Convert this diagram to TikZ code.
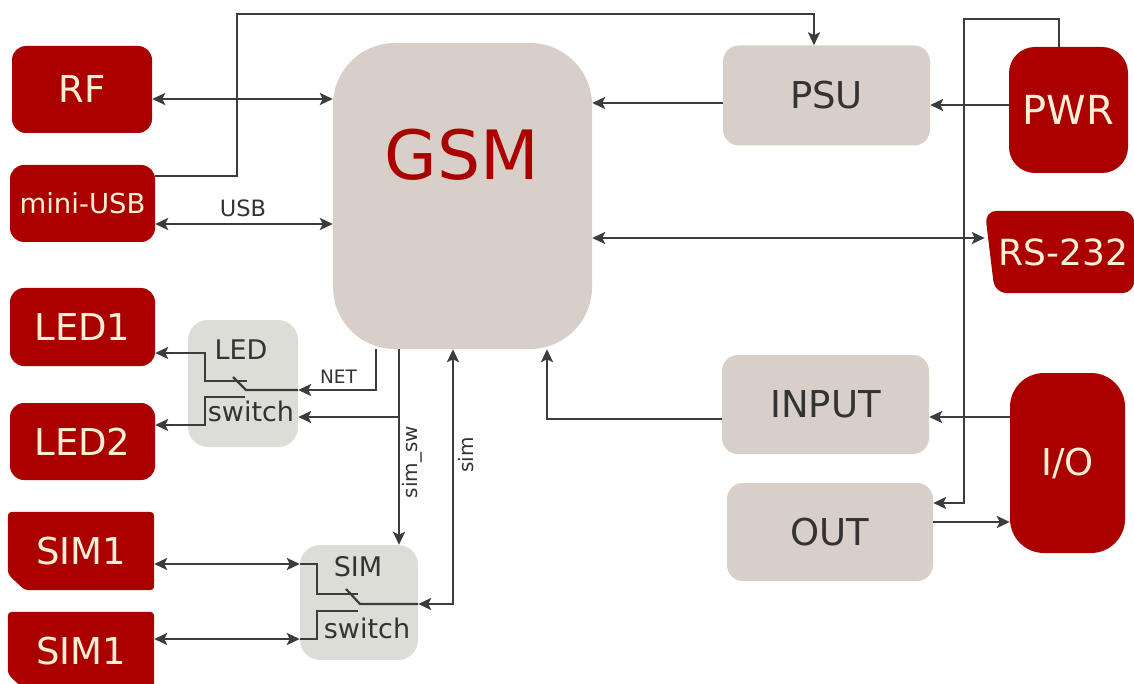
\documentclass[tikz,border=0pt]{standalone}
\usepackage{fontspec}
\setmainfont{DejaVu Sans}
\usetikzlibrary{arrows.meta,backgrounds}

\definecolor{gsmred}{HTML}{AA0000}
\definecolor{cream}{HTML}{FFEFD5}
\definecolor{sand}{HTML}{D8D0C8}
\definecolor{swgray}{HTML}{DCDDD6}
\definecolor{wirec}{HTML}{3C3C3C}
\definecolor{ink}{HTML}{333333}

\tikzset{
  ext/.style={fill=gsmred, text=cream, rounded corners=14pt, inner sep=0pt, font=\fontsize{37}{40}\selectfont},
  card/.style={ext, fill=none},
  blk/.style={fill=sand, text=ink, rounded corners=16pt, inner sep=0pt, font=\fontsize{37}{40}\selectfont},
  swbox/.style={fill=swgray, rounded corners=20pt, inner sep=0pt},
  swtxt/.style={text=ink, inner sep=0pt, font=\fontsize{27}{30}\selectfont},
  sig/.style={text=ink, inner sep=0pt, font=\fontsize{20}{22}\selectfont},
  wire/.style={draw=wirec, line width=2.8pt},
  contact/.style={draw=wirec, line width=2.2pt}
}

\begin{document}
\begin{tikzpicture}[x=1pt,y=-1pt,>={Stealth[length=13pt,width=12pt,inset=3pt]}]
\useasboundingbox (0,0) rectangle (1134,684);

\node[ext, minimum width=140pt, minimum height=87pt] (rf) at (82,89.5) {RF};
\node[ext, minimum width=145pt, minimum height=77pt, font=\fontsize{27.5}{30}\selectfont] (miniusb) at (82.5,203.5) {mini-USB};
\node[ext, minimum width=145pt, minimum height=78pt] (led1) at (82.5,327) {LED1};
\node[ext, minimum width=145pt, minimum height=77pt] (led2) at (82.5,441.5) {LED2};
\node[card, minimum width=146pt, minimum height=78pt] (sim1) at (81,551) {SIM1};
\node[card, minimum width=146pt, minimum height=78pt] (sim2) at (81,651) {SIM1};

\node[blk, rounded corners=62pt, minimum width=259pt, minimum height=306pt] (gsm) at (462.5,196) {};
\node[text=gsmred, inner sep=0pt, font=\fontsize{68}{72}\selectfont] (gsmtxt) at (462,155) {GSM};

\node[blk, minimum width=207pt, minimum height=100pt] (psu) at (826.5,95.5) {PSU};
\node[ext, rounded corners=26pt, minimum width=119pt, minimum height=126pt, font=\fontsize{40}{44}\selectfont] (pwr) at (1068.5,110) {PWR};
\node[card, minimum width=149pt, minimum height=82pt, font=\fontsize{36}{40}\selectfont] (rs) at (1059.5,252) {\hspace{8pt}RS-232};
\node[blk, minimum width=207pt, minimum height=99pt] (inp) at (825.5,404.5) {INPUT};
\node[blk, minimum width=206pt, minimum height=98pt] (out) at (830,532) {OUT};
\node[ext, rounded corners=34pt, minimum width=115pt, minimum height=180pt] (io) at (1067.5,463) {I/O};

\node[swbox, minimum width=110pt, minimum height=127pt] (ledsw) at (243,383.5) {};
\node[swtxt] (ledswa) at (241,350) {LED};
\node[swtxt] (ledswb) at (251,411) {switch};
\node[swbox, minimum width=118pt, minimum height=115pt] (simsw) at (359,602.5) {};
\node[swtxt] (simswa) at (358,567) {SIM};
\node[swtxt] (simswb) at (367,628) {switch};

\begin{scope}[on background layer]
\foreach \c in {sim1,sim2}
  \fill[gsmred, rounded corners=4pt] (\c.north west) -- (\c.north east) -- (\c.south east)
    -- ([xshift=17pt]\c.south west) -- ([yshift=16pt]\c.south west) -- cycle;
\fill[gsmred, rounded corners=12pt] (rs.north west) -- (rs.north east) -- (rs.south east)
    -- ([xshift=10pt]rs.south west) -- cycle;
\end{scope}

\draw[wire,<->] (rf.east |- 0,99) -- (gsm.west |- 0,99);
\draw[wire,<->] (miniusb.east |- 0,224) -- (gsm.west |- 0,224);
\node[sig, font=\fontsize{22.5}{24}\selectfont] (usbl) at (243,208) {USB};
\draw[wire,->] (miniusb.east |- 0,176) -| (237,14) -| ([xshift=-12.5pt]psu.north);
\draw[wire,->] (psu.west |- 0,103) -- (gsm.east |- 0,103);
\draw[wire,->] (pwr.west |- 0,105) -- (psu.east |- 0,105);
\draw[wire,->] ([xshift=-9.5pt]pwr.north) |- (964,19) |- (out.east |- 0,503);
\draw[wire,<->] (gsm.east |- 0,238) -- (rs.west |- 0,238);
\draw[wire,->] (io.west |- 0,417) -- (inp.east |- 0,417);
\draw[wire,->] (inp.west |- 0,419) -| (gsm.south -| 547,0);
\draw[wire,->] (out.east |- 0,522) -- (io.west |- 0,522);

\draw[wire,->] (gsm.south -| 376,0) |- (ledsw.east |- 0,390);
\node[sig, font=\fontsize{18.5}{20}\selectfont] (netl) at (338.5,377) {NET};
\coordinate (br) at (399,417);
\draw[wire,->] (gsm.south -| br) -- (simsw.north -| br);
\draw[wire,->] (br) -- (ledsw.east |- br);
\node[sig, rotate=90] (simswl) at (412,462) {sim\_sw};
\draw[wire,<->] (simsw.east |- 0,604) -| (gsm.south -| 453,0);
\node[sig, rotate=90] (siml) at (466,455) {sim};

\draw[wire,->] (ledsw.west |- 0,353) -- (led1.east |- 0,353);
\draw[wire,->] (ledsw.west |- 0,425) -- (led2.east |- 0,425);
\draw[contact] (247,381) -| (205,353) -- (ledsw.west |- 0,353);
\draw[contact] (245,397) -| (205,425) -- (ledsw.west |- 0,425);
\draw[contact] (ledsw.east |- 0,390) -- (246,390) -- (233,377);

\draw[wire,<->] (sim1.east |- 0,564) -- (simsw.west |- 0,564);
\draw[wire,<->] (sim2.east |- 0,639) -- (simsw.west |- 0,639);
\draw[contact] (simsw.west |- 0,564) -| (317,594) -- (358,594);
\draw[contact] (simsw.west |- 0,639) -| (317,611) -- (358,611);
\draw[contact] (simsw.east |- 0,604) -- (360,604) -- (346,589);

\end{tikzpicture}
\end{document}
